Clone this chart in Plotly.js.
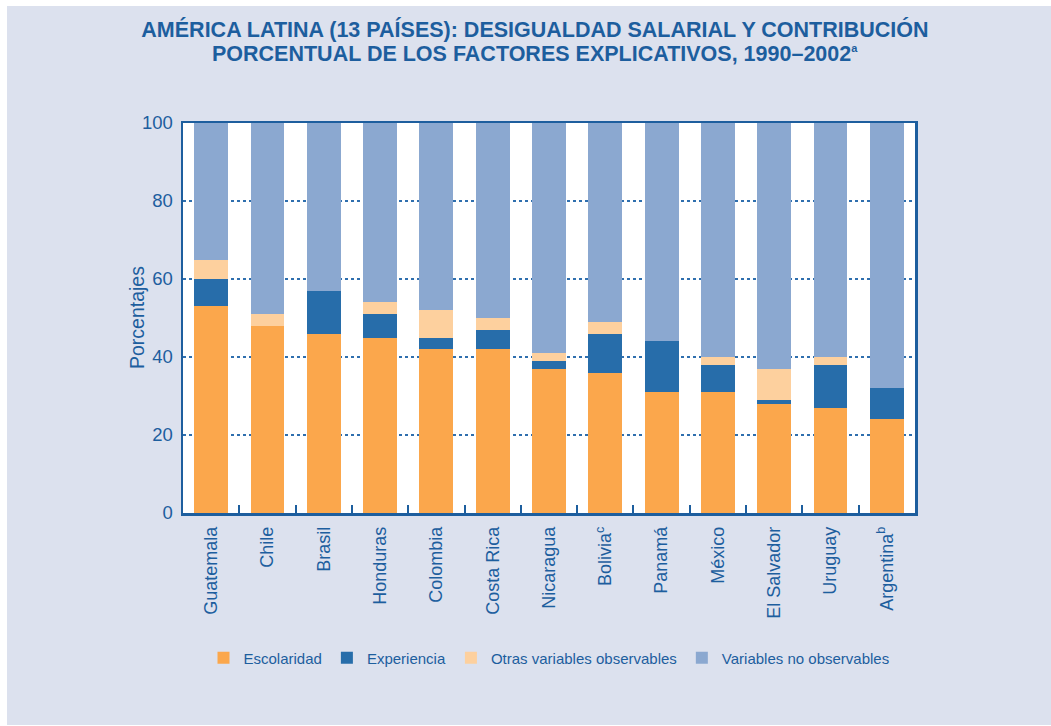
<!DOCTYPE html>
<html>
<head>
<meta charset="utf-8">
<script src="https://cdn.plot.ly/plotly-3.0.1.min.js"></script>
<style>
  html, body { margin: 0; padding: 0; background: #ffffff; }
  #chart { position: absolute; left: 7px; top: 6px; width: 1044px; height: 719px; }
</style>
</head>
<body>
<div id="chart"></div>
<script>
const countries = ["Guatemala", "Chile", "Brasil", "Honduras", "Colombia", "Costa Rica", "Nicaragua", "Bolivia<sup>c</sup>", "Panamá", "México", "El Salvador", "Uruguay", "Argentina<sup>b</sup>"];
const escolaridad = [53, 48, 46, 45, 42, 42, 37, 36, 31, 31, 28, 27, 24];
const experiencia = [7, 0, 11, 6, 3, 5, 2, 10, 13, 7, 1, 11, 8];
const otras = [5, 3, 0, 3, 7, 3, 2, 3, 0, 2, 8, 2, 0];
const noObservables = [35, 49, 43, 46, 48, 50, 59, 51, 56, 60, 63, 60, 68];
const seriesNames = ["Escolaridad", "Experiencia", "Otras variables observables", "Variables no observables"];
const yTicks = [0, 20, 40, 60, 80, 100];
const titleLine1 = "AMÉRICA LATINA (13 PAÍSES): DESIGUALDAD SALARIAL Y CONTRIBUCIÓN";
const titleLine2 = "PORCENTUAL DE LOS FACTORES EXPLICATIVOS, 1990–2002";

const colors = ["#FBA74C", "#276DAA", "#FDD09E", "#8BA8D0"];
const blue = "#1D5E9E";
const seriesData = [escolaridad, experiencia, otras, noObservables];

const traces = seriesData.map((vals, i) => ({
  type: "bar",
  name: seriesNames[i],
  x: countries,
  y: vals,
  marker: { color: colors[i], line: { width: 0 } },
  hoverinfo: "x+y+name"
}));

const fam = "Liberation Sans, Arial, sans-serif";

const layout = {
  barmode: "stack",
  bargap: 0.4,
  paper_bgcolor: "#DCE1EE",
  plot_bgcolor: "#FFFFFF",
  margin: { l: 176, r: 136, t: 117, b: 212 },
  font: { family: fam, color: blue },
  title: {
    text: "<b>" + titleLine1 + "</b>",
    font: { size: 21.5, color: blue, family: fam },
    xref: "container", x: 0.5057, xanchor: "center",
    yref: "container", y: 0.968, yanchor: "middle"
  },
  xaxis: {
    type: "category",
    tickangle: -90,
    tickfont: { size: 18, color: blue },
    ticks: "inside",
    tickson: "boundaries",
    ticklen: 8,
    tickwidth: 2,
    tickcolor: blue,
    showline: true,
    linecolor: blue,
    linewidth: 2.5,
    mirror: true,
    showgrid: false,
    ticklabelstandoff: 4
  },
  yaxis: {
    range: [0, 100],
    tickvals: yTicks,
    ticktext: yTicks.map(String),
    tickfont: { size: 18.5, color: blue },
    ticks: "",
    ticklabelstandoff: 4,
    showline: true,
    linecolor: blue,
    linewidth: 2.5,
    mirror: true,
    showgrid: true,
    gridcolor: "#2F6FAE",
    gridwidth: 1.5,
    griddash: "dot",
    zeroline: false
  },
  legend: {
    orientation: "h",
    x: 0.5, xanchor: "center",
    y: -0.372, yanchor: "middle",
    font: { size: 15, color: blue },
    bgcolor: "rgba(0,0,0,0)",
    traceorder: "normal",
    itemclick: false
  },
  annotations: [{
    text: "<b>" + titleLine2 + "</b><sup><span style=\"font-size:11px\"><b>a</b></span></sup>",
    xref: "paper", yref: "paper",
    x: 0.481, y: 1.176,
    xanchor: "center", yanchor: "middle",
    showarrow: false,
    font: { size: 21.5, color: blue, family: fam }
  }, {
    text: "Porcentajes",
    xref: "paper", yref: "paper",
    x: -0.0628, y: 0.5,
    xanchor: "center", yanchor: "middle",
    textangle: -90,
    showarrow: false,
    font: { size: 19.5, color: blue }
  }],
  showlegend: true
};

Plotly.newPlot("chart", traces, layout, { displayModeBar: false, staticPlot: true });
</script>
</body>
</html>
